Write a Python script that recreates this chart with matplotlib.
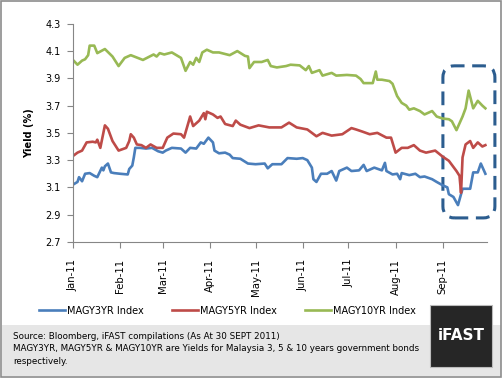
import matplotlib
matplotlib.use("Agg")
import matplotlib.pyplot as plt
import matplotlib.dates as mdates
import pandas as pd
from matplotlib.patches import FancyBboxPatch, Rectangle

# values (2011, yields in %)
DATES_3YR = [
    "01-01", "01-04", "01-05", "01-07", "01-09", "01-12", "01-15", "01-17",
    "01-20", "01-21", "01-22", "01-24", "01-26", "01-28", "02-01", "02-06",
    "02-07", "02-09", "02-10", "02-11", "02-14", "02-18", "02-22", "02-26",
    "03-01", "03-03", "03-07", "03-13", "03-16", "03-19", "03-23", "03-26",
    "03-28", "03-31", "04-03", "04-04", "04-07", "04-11", "04-14", "04-16",
    "04-21", "04-26", "05-01", "05-07", "05-09", "05-12", "05-18", "05-22",
    "05-28", "06-01", "06-04", "06-07", "06-08", "06-10", "06-13", "06-17",
    "06-20", "06-23", "06-25", "06-30", "07-03", "07-08", "07-11", "07-13",
    "07-18", "07-23", "07-25", "07-26", "07-30", "08-02", "08-04", "08-05",
    "08-10", "08-14", "08-17", "08-20", "08-25", "08-28", "09-01", "09-04",
    "09-05", "09-08", "09-11", "09-14", "09-19", "09-21", "09-24", "09-26",
    "09-29",
]
MAGY3YR = [
    3.12, 3.14, 3.175, 3.145, 3.20, 3.205, 3.185, 3.175,
    3.245, 3.225, 3.255, 3.275, 3.21, 3.205, 3.20, 3.195,
    3.235, 3.26, 3.32, 3.39, 3.39, 3.385, 3.39, 3.365,
    3.355, 3.37, 3.39, 3.385, 3.355, 3.39, 3.385, 3.43,
    3.42, 3.465, 3.43, 3.37, 3.35, 3.355, 3.34, 3.315,
    3.31, 3.275, 3.27, 3.275, 3.24, 3.27, 3.27, 3.315,
    3.31, 3.315, 3.30, 3.245, 3.16, 3.14, 3.20, 3.20,
    3.22, 3.15, 3.22, 3.245, 3.22, 3.225, 3.265, 3.22,
    3.245, 3.225, 3.28, 3.22, 3.195, 3.20, 3.16, 3.205,
    3.19, 3.20, 3.175, 3.18, 3.16, 3.14, 3.115, 3.10,
    3.05, 3.03, 2.97, 3.09, 3.09, 3.21, 3.21, 3.275,
    3.20,
]

DATES_5YR = [
    "01-01", "01-04", "01-07", "01-10", "01-14", "01-16", "01-17", "01-19",
    "01-22", "01-24", "01-27", "01-31", "02-05", "02-07", "02-08", "02-10",
    "02-12", "02-15", "02-18", "02-21", "02-25", "03-01", "03-04", "03-08",
    "03-13", "03-15", "03-18", "03-19", "03-21", "03-25", "03-28", "03-29",
    "03-30", "04-03", "04-06", "04-08", "04-11", "04-16", "04-18", "04-21",
    "04-27", "05-03", "05-10", "05-18", "05-23", "05-28", "06-04", "06-10",
    "06-14", "06-20", "06-27", "07-03", "07-06", "07-10", "07-15", "07-20",
    "07-26", "07-29", "08-01", "08-05", "08-09", "08-13", "08-17", "08-21",
    "08-27", "09-01", "09-05", "09-10", "09-12", "09-13", "09-14", "09-16",
    "09-19", "09-21", "09-24", "09-27", "09-29",
]
MAGY5YR = [
    3.33, 3.355, 3.37, 3.43, 3.435, 3.43, 3.45, 3.39,
    3.555, 3.53, 3.44, 3.37, 3.39, 3.44, 3.49, 3.465,
    3.415, 3.41, 3.39, 3.415, 3.39, 3.39, 3.465, 3.495,
    3.49, 3.465, 3.58, 3.62, 3.55, 3.59, 3.645, 3.60,
    3.655, 3.635, 3.61, 3.62, 3.565, 3.55, 3.59, 3.56,
    3.535, 3.555, 3.54, 3.54, 3.575, 3.54, 3.525, 3.475,
    3.50, 3.48, 3.49, 3.535, 3.525, 3.51, 3.49, 3.50,
    3.465, 3.465, 3.355, 3.39, 3.39, 3.41, 3.37, 3.355,
    3.37, 3.325, 3.295, 3.22, 3.185, 3.06, 3.32, 3.415,
    3.44, 3.39, 3.43, 3.40, 3.41,
]

DATES_10YR = [
    "01-01", "01-04", "01-07", "01-09", "01-11", "01-12", "01-15", "01-17",
    "01-22", "01-27", "01-31", "02-04", "02-08", "02-16", "02-23", "02-25",
    "02-27", "03-02", "03-07", "03-13", "03-16", "03-19", "03-21", "03-23",
    "03-25", "03-27", "03-30", "04-03", "04-07", "04-14", "04-19", "04-24",
    "04-26", "04-27", "04-30", "05-05", "05-09", "05-11", "05-15", "05-21",
    "05-24", "05-30", "06-03", "06-05", "06-07", "06-12", "06-14", "06-20",
    "06-23", "06-30", "07-06", "07-09", "07-11", "07-17", "07-19", "07-20",
    "07-23", "07-28", "07-30", "08-02", "08-05", "08-08", "08-10", "08-13",
    "08-17", "08-20", "08-25", "08-28", "09-01", "09-05", "09-07", "09-10",
    "09-14", "09-16", "09-18", "09-21", "09-24", "09-27", "09-29",
]
MAGY10YR = [
    4.035, 4.00, 4.03, 4.04, 4.07, 4.14, 4.14, 4.085,
    4.115, 4.06, 3.99, 4.05, 4.07, 4.035, 4.075, 4.06,
    4.085, 4.075, 4.09, 4.05, 3.955, 4.02, 4.00, 4.05,
    4.02, 4.09, 4.11, 4.09, 4.09, 4.07, 4.10, 4.065,
    4.06, 3.975, 4.02, 4.02, 4.035, 3.99, 3.98, 3.99,
    4.00, 3.995, 3.96, 3.99, 3.94, 3.96, 3.92, 3.94,
    3.92, 3.925, 3.92, 3.895, 3.865, 3.865, 3.95, 3.89,
    3.89, 3.88, 3.86, 3.77, 3.72, 3.70, 3.67, 3.68,
    3.66, 3.635, 3.66, 3.62, 3.605, 3.60, 3.585, 3.52,
    3.62, 3.68, 3.81, 3.68, 3.735, 3.70, 3.68,
]

SERIES = [
    ("MAGY3YR Index", DATES_3YR, MAGY3YR, "#4A7EBB"),
    ("MAGY5YR Index", DATES_5YR, MAGY5YR, "#BE4B48"),
    ("MAGY10YR Index", DATES_10YR, MAGY10YR, "#98B954"),
]

Y_TICKS = [2.7, 2.9, 3.1, 3.3, 3.5, 3.7, 3.9, 4.1, 4.3]

SOURCE_TEXT = ("Source: Bloomberg, iFAST compilations (As At 30 SEPT 2011)\n"
               "MAGY3YR, MAGY5YR & MAGY10YR are Yields for Malaysia 3, 5 & 10 years government bonds\n"
               "respectively.")

plt.rcParams["font.family"] = ["DejaVu Sans"]

fig = plt.figure(figsize=(5.03, 3.78), dpi=100)
ax = fig.add_axes([0.145, 0.360, 0.823, 0.577])

for label, dates, vals, color in SERIES:
    x = pd.to_datetime(["2011-" + d for d in dates])
    ax.plot(x, vals, color=color, lw=1.9, label=label, solid_joinstyle="round")

ax.set_xlim(pd.Timestamp("2011-01-01"), pd.Timestamp("2011-09-30"))
ax.set_ylim(2.7, 4.3)
ax.set_yticks(Y_TICKS)
ax.set_yticklabels([f"{v:.1f}" for v in Y_TICKS], fontsize=7)
ax.xaxis.set_major_locator(mdates.MonthLocator())
ax.xaxis.set_major_formatter(mdates.DateFormatter("%b-%y"))
plt.setp(ax.get_xticklabels(), rotation=90, fontsize=7.3)
ax.tick_params(axis="both", colors="#868686", labelcolor="black", length=4, width=0.8)
ax.tick_params(axis="x", pad=8)
ax.tick_params(axis="y", pad=5)
ax.set_ylabel("Yield (%)", fontsize=7, fontweight="bold", labelpad=8)

for side in ["top", "right"]:
    ax.spines[side].set_visible(False)
for side in ["left", "bottom"]:
    ax.spines[side].set_color("#868686")
    ax.spines[side].set_linewidth(0.8)

# dashed highlight around September
x0, x1 = (443 - 73) / 414, (495 - 73) / 414
y0, y1 = (242 - 218) / 218, (242 - 66) / 218
box = FancyBboxPatch((x0, y0), x1 - x0, y1 - y0,
                     boxstyle="round,pad=0,rounding_size=0.028",
                     mutation_aspect=414 / 218, transform=ax.transAxes,
                     fill=False, edgecolor="#2C5D8F", lw=2.2,
                     linestyle=(0, (4.5, 2.5)), clip_on=False)
ax.add_patch(box)

fig.legend(loc="center", bbox_to_anchor=(0.452, 0.178), ncol=3, frameon=False,
           fontsize=7, handlelength=2.7, columnspacing=2.9, handletextpad=0.2)

# footer band and logo
fig.patches.append(Rectangle((0.004, 0.005), 0.992, 0.135, transform=fig.transFigure,
                             facecolor="#E6E6E6", edgecolor="none", zorder=0))
fig.text(0.026, 0.077, SOURCE_TEXT, fontsize=6.3, va="center", ha="left",
         linespacing=1.5)
fig.patches.append(Rectangle((430 / 503, 1 - 367 / 378), 62 / 503, 62 / 378,
                             transform=fig.transFigure, facecolor="#262626",
                             edgecolor="#BBBBBB", lw=0.8, zorder=1))
fig.text(461 / 503, 1 - 336 / 378, "iFAST", color="white", fontsize=11,
         fontweight="bold", ha="center", va="center", zorder=2)

# outer frame
fig.patches.append(Rectangle((0.002, 0.003), 0.995, 0.994, transform=fig.transFigure,
                             facecolor="none", edgecolor="#8C8C8C", lw=1.2, zorder=3))

fig.savefig("out.png", dpi=100)
